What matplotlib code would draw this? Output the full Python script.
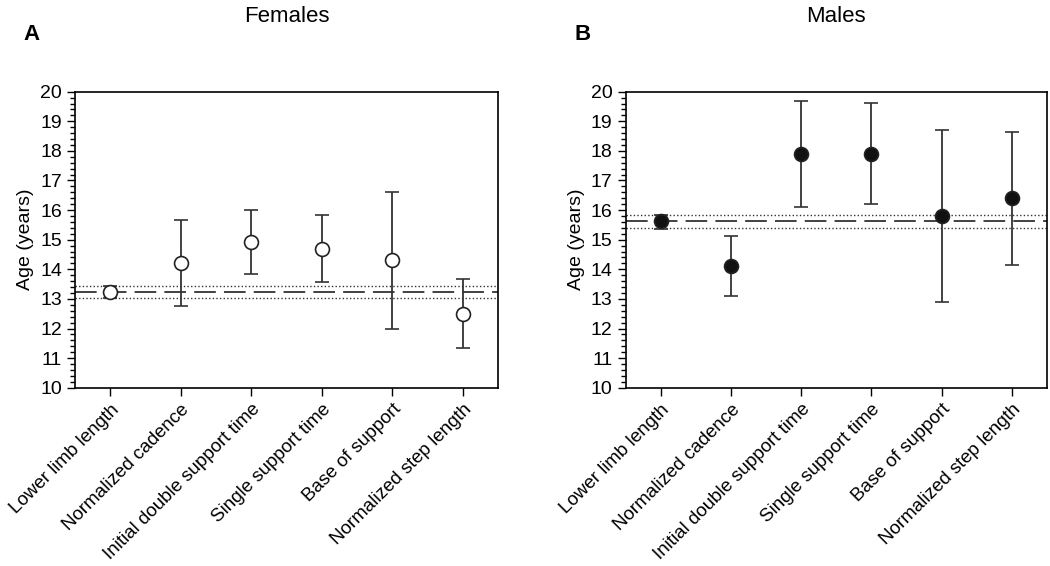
import numpy as np
import matplotlib.pyplot as plt
from matplotlib.ticker import MultipleLocator

plt.rcParams['font.family'] = ['Liberation Sans', 'DejaVu Sans']

categories = ['Lower limb length', 'Normalized cadence', 'Initial double support time',
              'Single support time', 'Base of support', 'Normalized step length']

# Females
f_mean = [13.22, 14.22, 14.92, 14.70, 14.30, 12.50]
f_low = [13.03, 12.75, 13.83, 13.58, 12.00, 11.35]
f_high = [13.42, 15.68, 16.00, 15.83, 16.60, 13.68]
f_ref = 13.22
f_ref_ci = [13.02, 13.42]

# Males
m_mean = [15.62, 14.12, 17.90, 17.90, 15.80, 16.40]
m_low = [15.37, 13.10, 16.11, 16.19, 12.90, 14.15]
m_high = [15.84, 15.14, 19.70, 19.62, 18.70, 18.65]
m_ref = 15.62
m_ref_ci = [15.38, 15.84]

fig = plt.figure(figsize=(10.5, 5.66), dpi=100)
ax1 = fig.add_axes([0.0715, 0.315, 0.403, 0.523])
ax2 = fig.add_axes([0.596, 0.315, 0.401, 0.523])

panels = [
    (ax1, f_mean, f_low, f_high, f_ref, f_ref_ci, 'white', 'Females', 'A'),
    (ax2, m_mean, m_low, m_high, m_ref, m_ref_ci, '#111111', 'Males', 'B'),
]

x = np.arange(len(categories))
for ax, mean, low, high, ref, ci, face, title, letter in panels:
    mean = np.array(mean)
    yerr = [mean - np.array(low), np.array(high) - mean]
    ax.axhline(ref, color='#333333', lw=1.3, ls=(0, (12, 4.5)), zorder=1)
    for c in ci:
        ax.axhline(c, color='#333333', lw=1.0, ls=(0, (1, 1.6)), zorder=1)
    ax.errorbar(x, mean, yerr=yerr, fmt='o', color='#333333', ecolor='#333333',
                elinewidth=1.3, capsize=5, capthick=1.3,
                markersize=10, markerfacecolor=face, markeredgecolor='#222222',
                markeredgewidth=1.2, zorder=3)
    ax.set_xlim(-0.5, len(categories) - 0.5)
    ax.set_ylim(10, 20)
    ax.yaxis.set_major_locator(MultipleLocator(1))
    ax.yaxis.set_minor_locator(MultipleLocator(0.2))
    ax.set_xticks(x)
    ax.set_xticklabels(categories, rotation=45, ha='right', rotation_mode='anchor',
                       fontsize=13.5)
    ax.tick_params(axis='y', labelsize=14, direction='out', length=6, width=1)
    ax.tick_params(axis='y', which='minor', direction='out', length=3.5, width=1)
    ax.tick_params(axis='x', direction='out', length=6, width=1)
    ax.set_ylabel('Age (years)', fontsize=14)
    for s in ax.spines.values():
        s.set_linewidth(1.2)
    ax.set_title(title, fontsize=16, pad=50)

fig.text(0.022, 0.93, 'A', fontsize=16, fontweight='bold')
fig.text(0.547, 0.93, 'B', fontsize=16, fontweight='bold')

fig.savefig('out.png', dpi=100)
